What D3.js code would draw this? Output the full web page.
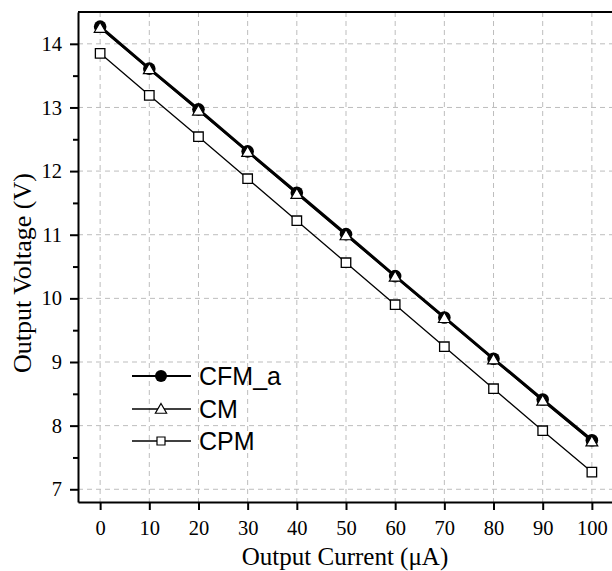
<!DOCTYPE html>
<html><head><meta charset="utf-8">
<script src="https://cdn.jsdelivr.net/npm/d3@7"></script>
<style>body{margin:0;background:#fff}svg{display:block}</style>
</head><body>
<script>
const current = [0, 10, 20, 30, 40, 50, 60, 70, 80, 90, 100];
const cfmA = [14.27, 13.61, 12.97, 12.31, 11.66, 11.01, 10.35, 9.70, 9.05, 8.41, 7.77];
const cm   = [14.25, 13.60, 12.95, 12.30, 11.64, 10.99, 10.34, 9.69, 9.04, 8.39, 7.75];
const cpm  = [13.85, 13.19, 12.54, 11.88, 11.22, 10.56, 9.90, 9.24, 8.58, 7.92, 7.27];
const xTicks = [0, 10, 20, 30, 40, 50, 60, 70, 80, 90, 100];
const yTicks = [7, 8, 9, 10, 11, 12, 13, 14];
const yMinor = [7.5, 8.5, 9.5, 10.5, 11.5, 12.5, 13.5];
const seriesNames = ["CFM_a", "CM", "CPM"];

const W = 612, H = 571;
const L = 78, R = 614, T = 12, B = 502;
const svg = d3.select("body").append("svg").attr("width", W).attr("height", H);
const x = d3.scaleLinear().domain([-4.5, 104.5]).range([L, R]);
const y = d3.scaleLinear().domain([6.8, 14.5]).range([B, T]);

// grid
const grid = svg.append("g").attr("stroke", "#bdbdbd").attr("stroke-dasharray", "5,4").attr("stroke-width", 1);
grid.selectAll("line.v").data(xTicks).join("line").attr("class","v")
  .attr("x1", d => x(d)).attr("x2", d => x(d)).attr("y1", T).attr("y2", B);
grid.selectAll("line.h").data(yTicks).join("line").attr("class","h")
  .attr("x1", L).attr("x2", R).attr("y1", d => y(d)).attr("y2", d => y(d));

// axes
const serif = "'Liberation Serif', 'Times New Roman', serif";
const xAxis = svg.append("g").attr("transform", `translate(0,${B})`)
  .call(d3.axisBottom(x).tickValues(xTicks).tickSize(8).tickPadding(10).tickSizeOuter(0));
const yAxis = svg.append("g").attr("transform", `translate(${L},0)`)
  .call(d3.axisLeft(y).tickValues(yTicks).tickSize(8).tickPadding(8).tickSizeOuter(0));
svg.append("g").attr("transform", `translate(${L},0)`)
  .call(d3.axisLeft(y).tickValues(yMinor).tickSize(5).tickFormat("").tickSizeOuter(0))
  .select(".domain").remove();
svg.selectAll(".tick line").attr("stroke", "#000").attr("stroke-width", 2);
[xAxis, yAxis].forEach(a => {
  a.select(".domain").attr("stroke", "#000").attr("stroke-width", 2);
  a.selectAll("text").attr("font-family", serif).attr("font-size", 20.5).attr("fill", "#000");
});
svg.append("line").attr("x1", L).attr("x2", R).attr("y1", T).attr("y2", T).attr("stroke", "#000").attr("stroke-width", 2);

svg.append("text").attr("x", 345).attr("y", 565).attr("text-anchor", "middle")
  .attr("font-family", serif).attr("font-size", 25).text("Output Current (\u03bcA)");
svg.append("text").attr("transform", `translate(31,273) rotate(-90)`).attr("text-anchor", "middle")
  .attr("font-family", serif).attr("font-size", 26).text("Output Voltage (V)");

// lines
const line = d3.line().x((d,i) => x(current[i])).y(d => y(d));
svg.append("path").datum(cpm).attr("d", line).attr("fill","none").attr("stroke","#000").attr("stroke-width",1.3);
svg.append("path").datum(cm).attr("d", line).attr("fill","none").attr("stroke","#000").attr("stroke-width",1.5);
svg.append("path").datum(cfmA).attr("d", line).attr("fill","none").attr("stroke","#000").attr("stroke-width",3);

const sq = d3.symbol().type(d3.symbolSquare).size(90);
const tri = d3.symbol().type(d3.symbolTriangle).size(60);
svg.append("g").selectAll("circle").data(cfmA).join("circle")
  .attr("cx", (d,i) => x(current[i])).attr("cy", d => y(d)).attr("r", 6.3).attr("fill", "#000");
svg.append("g").selectAll("path").data(cm).join("path").attr("d", tri)
  .attr("transform", (d,i) => `translate(${x(current[i])},${y(d)+1})`)
  .attr("fill", "#fff").attr("stroke", "#000").attr("stroke-width", 1.2);
svg.append("g").selectAll("path").data(cpm).join("path").attr("d", sq)
  .attr("transform", (d,i) => `translate(${x(current[i])},${y(d)})`)
  .attr("fill", "#fff").attr("stroke", "#000").attr("stroke-width", 1.3);

// legend
const sans = "'Liberation Sans', Arial, sans-serif";
const legY = [376, 409, 441];
const lg = svg.append("g");
seriesNames.forEach((name, i) => {
  const yy = legY[i];
  lg.append("line").attr("x1", 132).attr("x2", 191).attr("y1", yy).attr("y2", yy)
    .attr("stroke", "#000").attr("stroke-width", i === 0 ? 2 : 1.5);
  if (i === 0) lg.append("circle").attr("cx", 161).attr("cy", yy).attr("r", 6).attr("fill", "#000");
  if (i === 1) lg.append("path").attr("d", d3.symbol().type(d3.symbolTriangle).size(55))
    .attr("transform", `translate(161,${yy+1})`).attr("fill","#fff").attr("stroke","#000").attr("stroke-width",1.2);
  if (i === 2) lg.append("path").attr("d", d3.symbol().type(d3.symbolSquare).size(64))
    .attr("transform", `translate(161,${yy})`).attr("fill","#fff").attr("stroke","#000").attr("stroke-width",1.2);
  lg.append("text").attr("x", 199).attr("y", yy + 9).attr("font-family", sans).attr("font-size", 25).text(name);
});
</script>
</body></html>
